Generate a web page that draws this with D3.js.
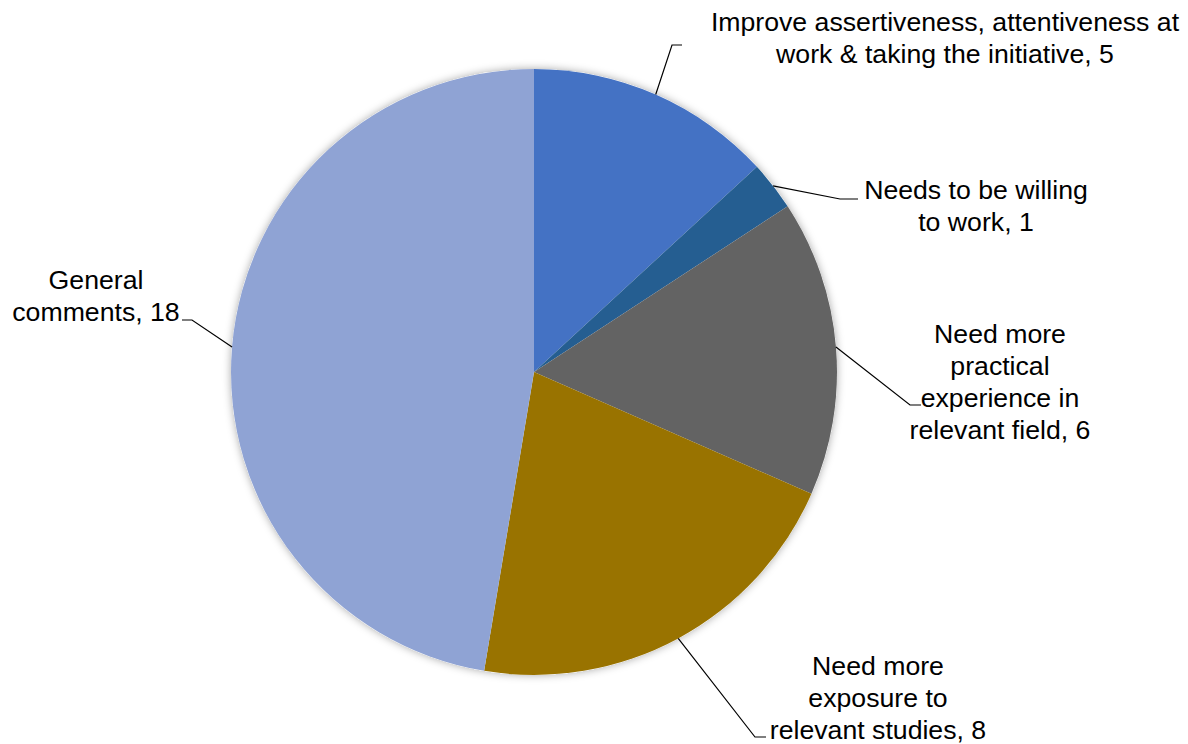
<!DOCTYPE html>
<html><head><meta charset="utf-8">
<script src="https://cdn.jsdelivr.net/npm/d3@7"></script>
<style>body{margin:0;background:#fff}svg{display:block}</style>
</head><body>
<svg id="c" width="1188" height="744"></svg>
<script>
const categories = ["Improve assertiveness, attentiveness at work & taking the initiative","Needs to be willing to work","Need more practical experience in relevant field","Need more exposure to relevant studies","General comments"];
const values = [5,1,6,8,18];
const colors = ["#4472C4","#255E91","#636363","#997300","#8FA3D4"];
const labelLines = [
  ["Improve assertiveness, attentiveness at","work & taking the initiative, 5"],
  ["Needs to be willing","to work, 1"],
  ["Need more","practical","experience in","relevant field, 6"],
  ["Need more","exposure to","relevant studies, 8"],
  ["General","comments, 18"]
];
// label layout (center x, first line center y), leader elbow
const labelPos = [
  {x:945,y:22,ex:672,ey:45,hx:682},
  {x:976,y:190,ex:840,ey:199,hx:858},
  {x:1000,y:334,ex:910,ey:405,hx:921},
  {x:878,y:666,ex:755,ey:737,hx:766},
  {x:96,y:280,ex:192,ey:320,hx:182}
];
const cx=534, cy=372, R=303, lh=31.8;
const svg=d3.select("#c");
const defs=svg.append("defs");
const f=defs.append("filter").attr("id","sh").attr("x","-20%").attr("y","-20%").attr("width","140%").attr("height","140%");
f.append("feDropShadow").attr("dx",0).attr("dy",0).attr("stdDeviation",4).attr("flood-color","#000").attr("flood-opacity",0.35);
const pie=d3.pie().sort(null).value(d=>d)(values);
const arc=d3.arc().innerRadius(0).outerRadius(R);
const g=svg.append("g").attr("transform",`translate(${cx},${cy})`);
g.append("circle").attr("r",R).attr("fill","#fff").attr("filter","url(#sh)");
g.selectAll("path").data(pie).join("path").attr("d",arc).attr("fill",(d,i)=>colors[i]);
pie.forEach((d,i)=>{
  const a=(d.startAngle+d.endAngle)/2;
  const px=cx+Math.sin(a)*R, py=cy-Math.cos(a)*R;
  const L=labelPos[i];
  svg.append("polyline").attr("points",`${px},${py} ${L.ex},${L.ey} ${L.hx},${L.ey}`)
    .attr("fill","none").attr("stroke","#000").attr("stroke-width",1.2);
  const t=svg.append("text").attr("font-family","'Liberation Sans', Arial, sans-serif").attr("font-size",26.67)
    .attr("text-anchor","middle").attr("fill","#000");
  labelLines[i].forEach((s,k)=>{
    t.append("tspan").attr("x",L.x).attr("y",L.y+k*lh).attr("dy","0.35em").text(s);
  });
});
</script>
</body></html>
